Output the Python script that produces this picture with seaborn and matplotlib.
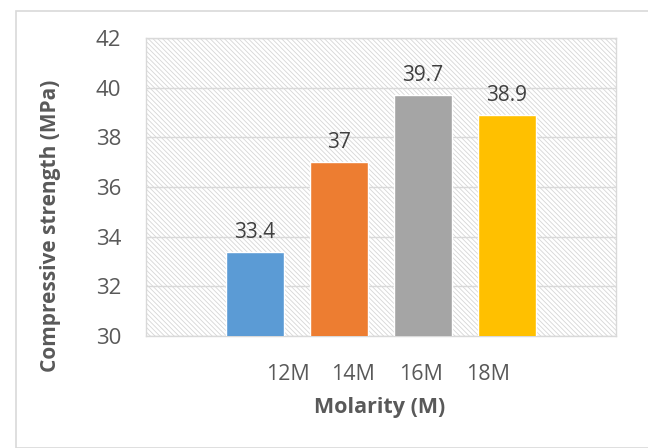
import numpy as np
import pandas as pd
import seaborn as sns
import matplotlib.pyplot as plt
from matplotlib.patches import Rectangle

# Chart data
molarity = ['12M', '14M', '16M', '18M']
strength = [33.4, 37.0, 39.7, 38.9]
bar_colors = ['#5B9BD5', '#ED7D31', '#A5A5A5', '#FFC000']

df = pd.DataFrame({'Molarity': molarity, 'Strength': strength})

sns.set_style('white')
plt.rcParams['font.family'] = ['Open Sans', 'DejaVu Sans']
plt.rcParams['hatch.linewidth'] = 0.6

fig = plt.figure(figsize=(6.48, 4.48), dpi=100)
ax = fig.add_axes([146 / 648, 1 - 336 / 448, 470 / 648, 298 / 448])

# hatched plot area background
ax.add_patch(Rectangle((0, 0), 1, 1, transform=ax.transAxes, facecolor='white',
                       edgecolor='#D6D6D6', hatch='\\' * 7, linewidth=0, zorder=0))

sns.barplot(x='Molarity', y='Strength', data=df, hue='Molarity', palette=bar_colors,
            width=0.7, legend=False, ax=ax, zorder=3, saturation=1)

ax.set_ylim(30, 42)
ax.set_yticks(np.arange(30, 43, 2))
ax.set_xlim(-1.30, 4.30)
ax.yaxis.grid(True, color='#D9D9D9', linewidth=1)
ax.set_axisbelow(True)
for s in ax.spines.values():
    s.set_color('#D9D9D9')
    s.set_linewidth(1)

# category labels sit offset from the bars in the original
ax.set_xticks([0.39, 1.17, 1.98, 2.78])
ax.set_xticklabels(molarity)
ax.tick_params(axis='x', length=0, labelsize=15.5, colors='#595959', pad=20)
ax.tick_params(axis='y', length=0, labelsize=16, colors='#595959', pad=18)

for i, v in enumerate(strength):
    ax.text(i, v + 0.35, f'{v:g}', ha='center', va='bottom', fontsize=15, color='#404040')

ax.set_xlabel('Molarity (M)', fontsize=15.5, fontweight='bold', color='#595959')
ax.set_ylabel('Compressive strength (MPa)', fontsize=15, fontweight='bold', color='#595959')
ax.xaxis.set_label_coords(0.497, -0.205)
ax.yaxis.set_label_coords(-0.181, 0.369)

# outer chart border
fig.patches.append(Rectangle((16 / 648, 0), 640 / 648, 1 - 11 / 448, transform=fig.transFigure,
                             fill=False, edgecolor='#D9D9D9', linewidth=1.2))

fig.savefig('out.png', dpi=100)
